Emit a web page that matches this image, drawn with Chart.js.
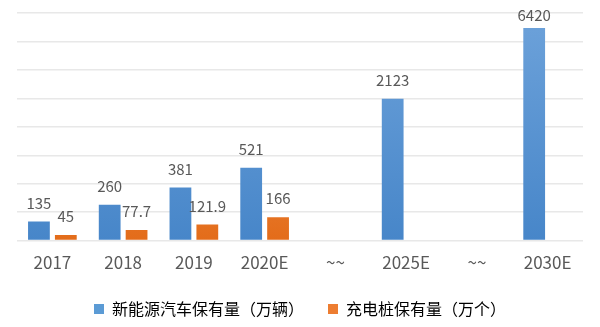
<!DOCTYPE html>
<html lang="zh-CN">
<head>
  <meta charset="UTF-8">
  <title>新能源汽车与充电桩保有量</title>
  <style>
    body { margin: 0; background: #fff; }
    .wrap { width: 600px; height: 327px; }
  </style>
  <script src="https://cdn.jsdelivr.net/npm/chart.js"></script>
</head>
<body>
<div class="wrap"><canvas id="stockChart"></canvas></div>

<script>
// 横轴分类（~~ 为断轴）
const categories = ['2017', '2018', '2019', '2020E', '~~', '2025E', '~~', '2030E'];
// 标注数值
const evStock = [135, 260, 381, 521, null, 2123, null, 6420];
const pileStock = [45, 77.7, 121.9, 166, null, null, null, null];
// 原图柱高（断轴，按网格格数读取）
const evBarHeight = [0.67, 1.26, 1.87, 2.56, null, 4.99, null, 7.47];
const pileBarHeight = [0.2, 0.375, 0.57, 0.82, null, null, null, null];
const seriesNames = ['新能源汽车保有量（万辆）', '充电桩保有量（万个）'];
const yTicks = [0, 1, 2, 3, 4, 5, 6, 7, 8];

const FONT = '"Noto Sans CJK SC", "Noto Sans", sans-serif';

function grad(ctx, top, bottom) {
  const area = ctx.chart.chartArea;
  if (!area) return bottom;
  const g = ctx.chart.ctx.createLinearGradient(0, area.top, 0, area.bottom);
  g.addColorStop(0, top);
  g.addColorStop(1, bottom);
  return g;
}

// 柱顶数值标注
const valueLabels = {
  id: 'valueLabels',
  afterDatasetsDraw(chart) {
    const c = chart.ctx;
    const texts = [evStock, pileStock];
    const minY = chart.chartArea.top + 10;
    c.save();
    c.font = '15px ' + FONT;
    c.fillStyle = '#595959';
    c.textAlign = 'center';
    c.textBaseline = 'bottom';
    chart.data.datasets.forEach((ds, di) => {
      chart.getDatasetMeta(di).data.forEach((bar, i) => {
        const v = texts[di][i];
        if (v == null) return;
        c.fillText(String(v), bar.x, Math.max(bar.y - 11, minY));
      });
    });
    c.restore();
  }
};

new Chart(document.getElementById('stockChart'), {
  type: 'bar',
  data: {
    labels: categories,
    datasets: [
      {
        label: seriesNames[0],
        data: evBarHeight,
        backgroundColor: ctx => grad(ctx, '#6da2da', '#4786c9'),
        legendColor: '#5b9bd5'
      },
      {
        label: seriesNames[1],
        data: pileBarHeight,
        backgroundColor: ctx => grad(ctx, '#f7a35f', '#e36c1a'),
        legendColor: '#ed7d31'
      }
    ]
  },
  options: {
    responsive: true,
    maintainAspectRatio: false,
    animation: false,
    layout: { padding: { left: 17, right: 17, top: 13, bottom: 0 } },
    datasets: { bar: { categoryPercentage: 0.76, barPercentage: 0.81 } },
    scales: {
      x: {
        grid: { display: false },
        border: { display: false },
        ticks: { color: '#595959', font: { family: FONT, size: 17 }, padding: 4 }
      },
      y: {
        min: 0, max: 8,
        afterBuildTicks: axis => { axis.ticks = yTicks.map(v => ({ value: v })); },
        ticks: { display: false },
        border: { display: false },
        grid: { color: '#e8e8e8', lineWidth: 1.5, drawTicks: false }
      }
    },
    plugins: {
      legend: {
        position: 'bottom',
        labels: {
          boxWidth: 10, boxHeight: 10, padding: 24,
          color: '#595959', font: { family: FONT, size: 16 },
          generateLabels: chart => chart.data.datasets.map((ds, i) => ({
            text: ds.label, fillStyle: ds.legendColor, strokeStyle: ds.legendColor,
            lineWidth: 0, datasetIndex: i, hidden: false
          }))
        }
      },
      tooltip: { enabled: false }
    }
  },
  plugins: [valueLabels]
});
</script>
</body>
</html>
